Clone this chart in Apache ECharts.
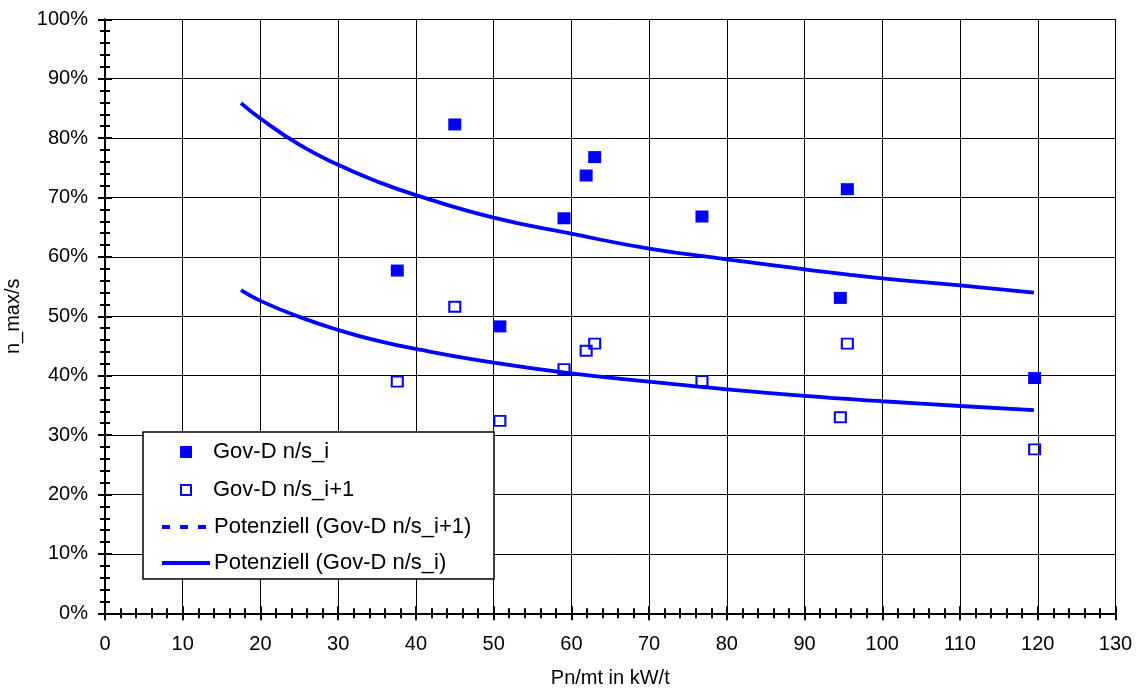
<!DOCTYPE html>
<html>
<head>
<meta charset="utf-8">
<script src="https://cdn.jsdelivr.net/npm/echarts@6/dist/echarts.min.js"></script>
<style>
  html, body { margin: 0; padding: 0; background: #fff; }
  #chart { width: 1137px; height: 689px; }
</style>
</head>
<body>
<div id="chart"></div>
<script>
// Power-to-mass ratio of each vehicle (kW/t)
const powerToMass = [37.6, 45.0, 50.8, 59.05, 61.9, 63.0, 76.8, 94.6, 95.5, 119.6];
// n_max/s in gear i and gear i+1 (%)
const ratioGearI = [57.7, 82.3, 48.3, 66.5, 73.7, 76.8, 66.8, 53.1, 71.4, 39.6];
const ratioGearI1 = [39.0, 51.6, 32.4, 41.1, 44.2, 45.4, 39.1, 33.0, 45.4, 27.6];

// Power trend lines, sampled along the x range
const trendX = [17.5, 20, 25, 30, 35, 40, 50, 60, 70, 80, 90, 100, 110, 119.5];
const trendGearI = [85.9, 83.3, 78.9, 75.5, 72.7, 70.4, 66.6, 63.9, 61.4, 59.6, 57.9, 56.4, 55.2, 54.0];
const trendGearI1 = [54.4, 52.6, 49.9, 47.7, 45.9, 44.5, 42.2, 40.4, 39.0, 37.7, 36.6, 35.7, 34.9, 34.2];

const legendLabels = [
  'Gov-D n/s_i',
  'Gov-D n/s_i+1',
  'Potenziell (Gov-D n/s_i+1)',
  'Potenziell (Gov-D n/s_i)'
];
const xTitle = 'Pn/mt in kW/t';
const yTitle = 'n_max/s';

const BLUE = '#0000ff';
const FONT = '"Liberation Sans", Arial, sans-serif';
const FS = 20;       // axis text
const FS_LEG = 22;   // legend text

const zip = (xs, ys) => xs.map((x, i) => [x, ys[i]]);

const chart = echarts.init(document.getElementById('chart'), null, { renderer: 'canvas' });

const baseX = { type: 'value', min: 0, max: 130, interval: 10, position: 'bottom' };
const baseY = { type: 'value', min: 0, max: 100, interval: 10, position: 'left' };
const tickStyle = { color: '#000', width: 2 };

const option = {
  backgroundColor: '#fff',
  animation: false,
  grid: {
    left: 105, right: 21.5, top: 19.3, bottom: 75.7,
    containLabel: false, outerBoundsMode: 'none'
  },
  xAxis: [
    Object.assign({}, baseX, {
      name: xTitle, nameLocation: 'middle', nameGap: 55,
      nameTextStyle: { color: '#000', fontFamily: FONT, fontSize: FS },
      axisLine: { show: true, lineStyle: { color: '#000', width: 2 } },
      axisTick: { show: true, length: 7, lineStyle: tickStyle },
      minorTick: { show: true, splitNumber: 5, length: 5, lineStyle: tickStyle },
      axisLabel: { color: '#000', fontFamily: FONT, fontSize: FS, margin: 21 },
      splitLine: { show: true, lineStyle: { color: '#000', width: 1 } }
    }),
    // inner half of the crossing ticks
    Object.assign({}, baseX, {
      axisLine: { show: false },
      axisTick: { show: true, inside: true, length: 7, lineStyle: tickStyle },
      minorTick: { show: true, splitNumber: 5, length: 5, lineStyle: tickStyle },
      axisLabel: { show: false },
      splitLine: { show: false }
    })
  ],
  yAxis: [
    Object.assign({}, baseY, {
      name: yTitle, nameLocation: 'middle', nameGap: 82, nameRotate: 90,
      nameTextStyle: { color: '#000', fontFamily: FONT, fontSize: FS },
      axisLine: { show: true, lineStyle: { color: '#000', width: 2 } },
      axisTick: { show: true, length: 7, lineStyle: tickStyle },
      minorTick: { show: true, splitNumber: 5, length: 5, lineStyle: tickStyle },
      axisLabel: { color: '#000', fontFamily: FONT, fontSize: FS, margin: 17, formatter: '{value}%' },
      splitLine: { show: true, lineStyle: { color: '#000', width: 1 } }
    }),
    Object.assign({}, baseY, {
      axisLine: { show: false },
      axisTick: { show: true, inside: true, length: 7, lineStyle: tickStyle },
      minorTick: { show: true, splitNumber: 5, length: 5, lineStyle: tickStyle },
      axisLabel: { show: false },
      splitLine: { show: false }
    })
  ],
  series: [
    {
      name: legendLabels[3], type: 'line', smooth: true, showSymbol: false, symbol: 'none',
      data: zip(trendX, trendGearI), z: 3,
      lineStyle: { color: BLUE, width: 3.8 }
    },
    {
      name: legendLabels[2], type: 'line', smooth: true, showSymbol: false, symbol: 'none',
      data: zip(trendX, trendGearI1), z: 3,
      lineStyle: { color: BLUE, width: 3.8 }
    },
    {
      name: legendLabels[0], type: 'scatter', symbol: 'rect', symbolSize: [13, 12],
      data: zip(powerToMass, ratioGearI), z: 4,
      itemStyle: { color: BLUE, opacity: 1 }
    },
    {
      name: legendLabels[1], type: 'scatter', symbol: 'rect', symbolSize: [11, 10],
      data: zip(powerToMass, ratioGearI1), z: 4,
      itemStyle: { color: 'rgba(255,255,255,0)', borderColor: BLUE, borderWidth: 2, opacity: 1 }
    }
  ],
  graphic: {
    elements: [
      { type: 'rect', z: 100, shape: { x: 143, y: 432, width: 351, height: 147 },
        style: { fill: '#fff', stroke: '#000', lineWidth: 1.5 } },
      // filled marker
      { type: 'rect', z: 101, shape: { x: 180, y: 446, width: 12, height: 12 }, style: { fill: BLUE } },
      // hollow marker
      { type: 'rect', z: 101, shape: { x: 181, y: 485, width: 10, height: 10 },
        style: { fill: '#fff', stroke: BLUE, lineWidth: 2 } },
      // dotted trend line sample
      { type: 'line', z: 101, shape: { x1: 162, y1: 527, x2: 207, y2: 527 },
        style: { stroke: BLUE, lineWidth: 4, lineDash: [8, 10] } },
      // solid trend line sample
      { type: 'line', z: 101, shape: { x1: 162, y1: 563, x2: 210, y2: 563 },
        style: { stroke: BLUE, lineWidth: 4 } },
      { type: 'text', z: 101, x: 213, y: 452, style: { text: legendLabels[0], fill: '#000', font: FS_LEG + 'px ' + FONT, verticalAlign: 'middle' } },
      { type: 'text', z: 101, x: 213, y: 490, style: { text: legendLabels[1], fill: '#000', font: FS_LEG + 'px ' + FONT, verticalAlign: 'middle' } },
      { type: 'text', z: 101, x: 214, y: 527, style: { text: legendLabels[2], fill: '#000', font: FS_LEG + 'px ' + FONT, verticalAlign: 'middle' } },
      { type: 'text', z: 101, x: 214, y: 563, style: { text: legendLabels[3], fill: '#000', font: FS_LEG + 'px ' + FONT, verticalAlign: 'middle' } }
    ]
  }
};

chart.setOption(option);
</script>
</body>
</html>
